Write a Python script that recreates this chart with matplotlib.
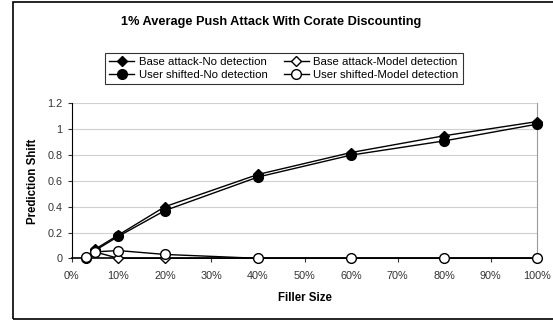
import matplotlib
matplotlib.use("Agg")
import matplotlib.pyplot as plt
from matplotlib.patches import Rectangle
from matplotlib.ticker import FuncFormatter

plt.rcParams['font.family'] = ['Liberation Sans', 'DejaVu Sans']

# --------------------------
# data
# --------------------------
filler = [3, 5, 10, 20, 40, 60, 80, 100]
base_no_det = [0.00, 0.07, 0.18, 0.40, 0.65, 0.82, 0.95, 1.06]
user_no_det = [0.00, 0.06, 0.17, 0.37, 0.63, 0.80, 0.91, 1.04]
base_model_det = [0.00, 0.05, 0.00, 0.00, 0.00, 0.00, 0.00, 0.00]
user_model_det = [0.01, 0.05, 0.06, 0.03, 0.00, 0.00, 0.00, 0.00]

title = '1% Average Push Attack With Corate Discounting'

fig = plt.figure(figsize=(5.53, 3.21), dpi=100)
ax = fig.add_axes([0.1297, 0.1953, 0.842, 0.4823])

# outer chart border
fig.patches.append(Rectangle((13 / 553, 2 / 321), 1.0, 317 / 321, transform=fig.transFigure,
                             fill=False, edgecolor='black', linewidth=1.2))

line_kw = dict(color='black', linewidth=1.0, clip_on=False, zorder=3)
h_bn, = ax.plot(filler, base_no_det, marker='D', markersize=5.5, markerfacecolor='black',
                markeredgecolor='black', label='Base attack-No detection', **line_kw)
h_bm, = ax.plot(filler, base_model_det, marker='D', markersize=5.5, markerfacecolor='white',
                markeredgecolor='black', label='Base attack-Model detection', **line_kw)
h_un, = ax.plot(filler, user_no_det, marker='o', markersize=7, markerfacecolor='black',
                markeredgecolor='black', label='User shifted-No detection', **line_kw)
h_um, = ax.plot(filler, user_model_det, marker='o', markersize=7, markerfacecolor='white',
                markeredgecolor='black', label='User shifted-Model detection', **line_kw)

ax.set_xlim(0, 100)
ax.set_ylim(0, 1.2)
ax.set_xticks(range(0, 101, 10))
ax.set_yticks([0, 0.2, 0.4, 0.6, 0.8, 1, 1.2])
ax.xaxis.set_major_formatter(FuncFormatter(lambda v, p: f'{int(v)}%'))
ax.yaxis.set_major_formatter(FuncFormatter(lambda v, p: f'{v:g}'))
ax.tick_params(labelsize=7.8, direction='out', length=3, width=0.8, colors='#333333')
ax.tick_params(axis='x', pad=6)

ax.grid(axis='y', color='#d0d0d0', linewidth=0.8)
ax.set_axisbelow(True)
ax.spines['top'].set_visible(False)
ax.spines['right'].set_color('#9a9a9a')
ax.spines['left'].set_color('black')
ax.spines['bottom'].set_color('black')
ax.spines['bottom'].set_linewidth(1.2)

ax.set_xlabel('Filler Size', fontsize=8.3, fontweight='bold', labelpad=8)
ax.set_ylabel('Prediction Shift', fontsize=8.3, fontweight='bold', labelpad=6)

fig.text(271 / 553, 1 - 22 / 321, title, ha='center', va='center',
         fontsize=9.2, fontweight='bold')

# columns fill first, so order gives rows: base / user
handles = [h_bn, h_un, h_bm, h_um]
labels = [h.get_label() for h in handles]
leg = fig.legend(handles, labels, ncol=2, loc='center',
                 bbox_to_anchor=(284 / 553, 1 - 68.5 / 321), fontsize=8.2,
                 frameon=True, fancybox=False, edgecolor='black', handlelength=2.2,
                 handletextpad=0.4, columnspacing=1.4, labelspacing=0.3,
                 borderpad=0.35)
leg.get_frame().set_linewidth(0.8)

fig.savefig('out.png', dpi=100)
